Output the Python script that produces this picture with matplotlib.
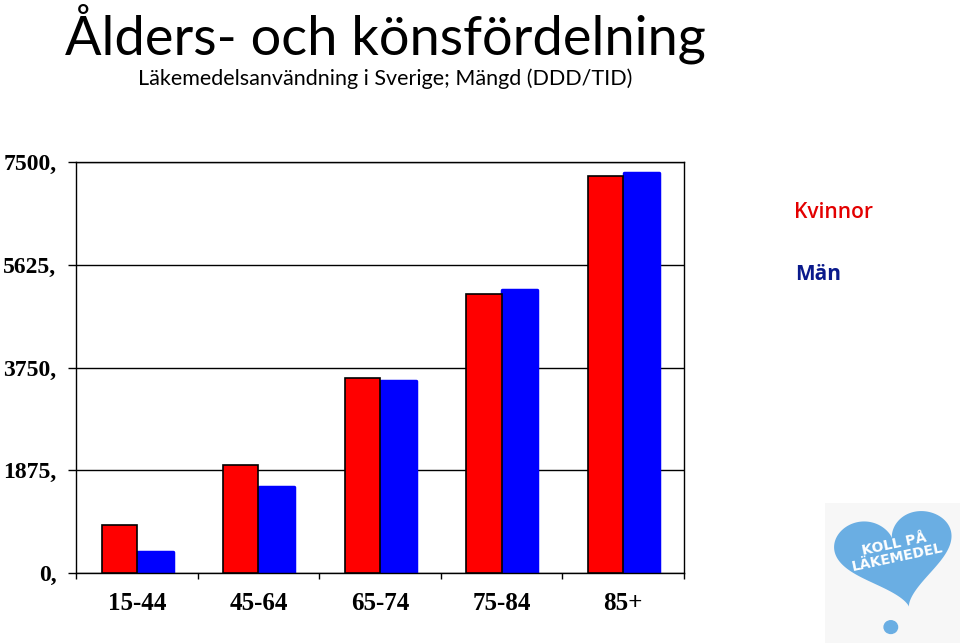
import numpy as np
import matplotlib
matplotlib.use('Agg')
import matplotlib.pyplot as plt

age_groups = ['15-44', '45-64', '65-74', '75-84', '85+']
women = [880, 1970, 3560, 5090, 7250]
men = [380, 1570, 3500, 5160, 7300]
y_ticks = [0, 1875, 3750, 5625, 7500]
y_labels = ['0,', '1875,', '3750,', '5625,', '7500,']

red = '#ff0000'
blue = '#0000ff'


def draw_logo(fig):
    ax = fig.add_axes([825 / 960, 0.0, 135 / 960, 140 / 643])
    ax.set_facecolor('#f7f7f7')
    t = np.linspace(0, 2 * np.pi, 300)
    hx = 16 * np.sin(t) ** 3
    hy = 13 * np.cos(t) - 5 * np.cos(2 * t) - 2 * np.cos(3 * t) - np.cos(4 * t)
    ang = np.radians(12)
    rx = hx * np.cos(ang) - hy * np.sin(ang)
    ry = hx * np.sin(ang) + hy * np.cos(ang)
    ax.fill(rx * 1.1 + 1, ry + 4, color='#6aaee3', lw=0)
    ax.add_patch(plt.Circle((-0.5, -19), 2.0, color='#6aaee3'))
    ax.text(1, 5, 'KOLL PÅ\nLÄKEMEDEL', color='white', fontsize=10, fontweight='bold',
            ha='center', va='center', rotation=12, linespacing=0.9, family='DejaVu Sans')
    ax.set_xlim(-20, 20)
    ax.set_ylim(-24, 20)
    ax.set_xticks([])
    ax.set_yticks([])
    for s in ax.spines.values():
        s.set_visible(False)


def plot_chart():
    fig = plt.figure(figsize=(9.6, 6.43), dpi=100)
    ax = fig.add_axes([76 / 960, 70 / 643, 608 / 960, 411 / 643])

    x = np.arange(len(age_groups))
    ax.bar(x - 0.29, women, width=0.29, align='edge', color=red, edgecolor='black', linewidth=1.2, zorder=3)
    ax.bar(x + 0.005, men, width=0.29, align='edge', color=blue, edgecolor=blue, linewidth=2.5,
           joinstyle='round', zorder=2)

    ax.set_xlim(-0.5, 4.5)
    ax.set_ylim(0, 7500)
    ax.set_yticks(y_ticks)
    ax.set_yticklabels(y_labels, family='Liberation Serif', fontweight='bold', fontsize=17)
    ax.set_xticks(x)
    ax.set_xticklabels(age_groups, family='Liberation Serif', fontweight='bold', fontsize=18)
    ax.set_xticks(np.arange(-0.5, 5, 1.0), minor=True)
    ax.tick_params(axis='x', which='major', length=0, pad=14)
    ax.tick_params(axis='x', which='minor', length=4.5, direction='out', width=1)
    ax.tick_params(axis='y', length=6, width=1, direction='out', pad=8)
    ax.grid(axis='y', color='black', linewidth=1, zorder=1)
    ax.set_axisbelow(True)
    for s in ax.spines.values():
        s.set_linewidth(1)

    fig.text(65 / 960, 1 - 34 / 643, 'Ålders- och könsfördelning', fontsize=39, family='Lato',
             ha='left', va='center')
    fig.text(385 / 960, 1 - 79 / 643, 'Läkemedelsanvändning i Sverige; Mängd (DDD/TID)', fontsize=15.5,
             family='Lato', ha='center', va='center')

    fig.text(833 / 960, 1 - 212 / 643, 'Kvinnor', color='#e30000', fontsize=15, family='Open Sans',
             fontweight='semibold', ha='center', va='center')
    fig.text(818 / 960, 1 - 275 / 643, 'Män', color='#0a1a8c', fontsize=15, family='Open Sans',
             fontweight='bold', ha='center', va='center')

    draw_logo(fig)
    fig.savefig('out.png', dpi=100)


if __name__ == "__main__":
    plot_chart()
